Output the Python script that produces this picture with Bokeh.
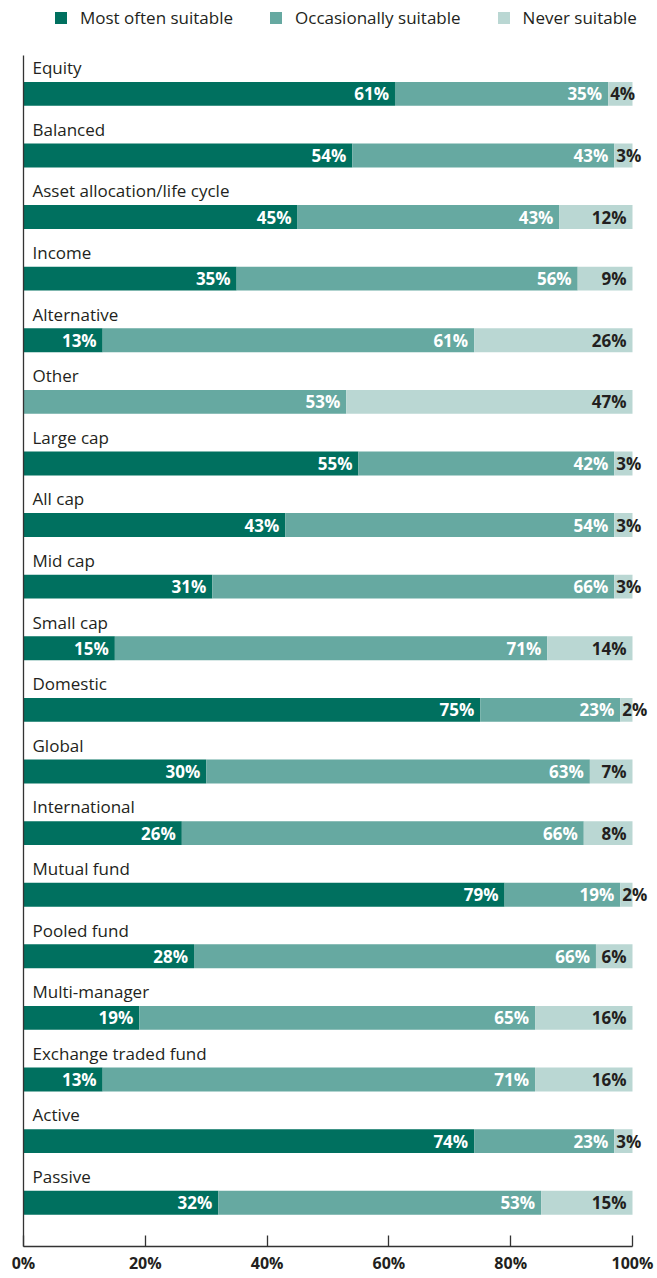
from bokeh.plotting import figure
from bokeh.models import ColumnDataSource, Range1d, Legend, LegendItem, FixedTicker, CustomJSTickFormatter
from bokeh.core.properties import value
from bokeh.embed import file_html
from bokeh.resources import INLINE

categories = ["Equity", "Balanced", "Asset allocation/life cycle", "Income", "Alternative",
              "Other", "Large cap", "All cap", "Mid cap", "Small cap", "Domestic", "Global",
              "International", "Mutual fund", "Pooled fund", "Multi-manager",
              "Exchange traded fund", "Active", "Passive"]
most_often = [61, 54, 45, 35, 13, 0, 55, 43, 31, 15, 75, 30, 26, 79, 28, 19, 13, 74, 32]
occasionally = [35, 43, 43, 56, 61, 53, 42, 54, 66, 71, 23, 63, 66, 19, 66, 65, 71, 23, 53]
never = [4, 3, 12, 9, 26, 47, 3, 3, 3, 14, 2, 7, 8, 2, 6, 16, 16, 3, 15]
series_names = ["Most often suitable", "Occasionally suitable", "Never suitable"]
tick_values = [0, 20, 40, 60, 80, 100]

COLORS = ["#00705F", "#66A9A1", "#BAD7D3"]
TEXT_COLORS = ["#FFFFFF", "#FFFFFF", "#231F20"]
DARK = "#231F20"
AXIS = "#333333"
FONT = "Open Sans"

n = len(categories)
idx = list(range(n))
series = [most_often, occasionally, never]

W, H = 655, 1276
BL, BR, BT, BB = 23, 4, 0, 27
Y_TOP, Y_AX_TOP, Y_AX_BOT = -1.515, -0.626, 18.711
X_END = 103.12
p = figure(width=W, height=H, output_backend="svg", toolbar_location=None,
           x_range=Range1d(0, X_END), y_range=Range1d(Y_AX_BOT, Y_TOP),
           min_border_left=BL, min_border_right=BR, min_border_top=BT, min_border_bottom=BB)
p.outline_line_color = None
p.xgrid.visible = False
p.ygrid.visible = False
p.background_fill_color = "white"
p.border_fill_color = "white"

bar_h = 0.388
renderers = []
cum = [0] * n
label_rows = {"x": [], "y": [], "text": [], "align": [], "xoff": [], "color": []}
for s_i, vals in enumerate(series):
    left = list(cum)
    right = [c + v for c, v in zip(cum, vals)]
    src = ColumnDataSource(dict(y=idx, left=left, right=right))
    r = p.hbar(y="y", left="left", right="right", height=bar_h, source=src,
               fill_color=COLORS[s_i], line_color=None)
    renderers.append(r)
    for i, v in enumerate(vals):
        if v <= 0:
            continue
        if v < 5:
            label_rows["x"].append(left[i]); label_rows["align"].append("left"); label_rows["xoff"].append(2)
        else:
            label_rows["x"].append(right[i]); label_rows["align"].append("right"); label_rows["xoff"].append(-6)
        label_rows["y"].append(i)
        label_rows["text"].append(f"{v}%")
        label_rows["color"].append(TEXT_COLORS[s_i])
    cum = right

p.text(x="x", y="y", text="text", source=ColumnDataSource(label_rows),
       text_align="align", x_offset="xoff", text_color="color",
       text_baseline="middle", text_font=value(FONT), text_font_style="bold",
       text_font_size="17px")

cat_src = ColumnDataSource(dict(x=[0] * n, y=[i - 0.424 for i in idx], text=categories))
p.text(x="x", y="y", text="text", source=cat_src, x_offset=9,
       text_baseline="middle", text_align="left", text_color=DARK,
       text_font=value(FONT), text_font_size="17px")

# axes
p.xaxis.ticker = FixedTicker(ticks=tick_values)
p.xaxis.bounds = (0, 100)
p.xaxis.formatter = CustomJSTickFormatter(code="return tick + '%';")
p.xaxis.major_tick_in = 11
p.xaxis.major_tick_out = 0
p.xaxis.minor_tick_line_color = None
p.xaxis.axis_line_color = AXIS
p.xaxis.axis_line_width = 1.3
p.xaxis.major_tick_line_color = AXIS
p.xaxis.major_tick_line_width = 1.3
p.xaxis.major_label_text_font = FONT
p.xaxis.major_label_text_font_style = "bold"
p.xaxis.major_label_text_font_size = "16px"
p.xaxis.major_label_text_color = DARK
p.xaxis.major_label_standoff = 5

p.yaxis.ticker = FixedTicker(ticks=[])
p.yaxis.bounds = (Y_AX_TOP, Y_AX_BOT)
p.yaxis.major_tick_in = 0
p.yaxis.major_tick_out = 0
p.yaxis.minor_tick_line_color = None
p.yaxis.axis_line_color = AXIS
p.yaxis.axis_line_width = 1.3

frame_h = H - BT - BB
legend = Legend(items=[LegendItem(label=series_names[k], renderers=[renderers[k]]) for k in range(3)],
                orientation="horizontal", location=(30, frame_h - 32),
                glyph_width=15, glyph_height=15, label_standoff=12, spacing=35,
                label_text_font=FONT, label_text_font_size="17px", label_text_color=DARK,
                border_line_alpha=0, background_fill_alpha=0, padding=0, margin=0)
p.add_layout(legend, "center")

open("out.html", "w").write(file_html(p, INLINE))
